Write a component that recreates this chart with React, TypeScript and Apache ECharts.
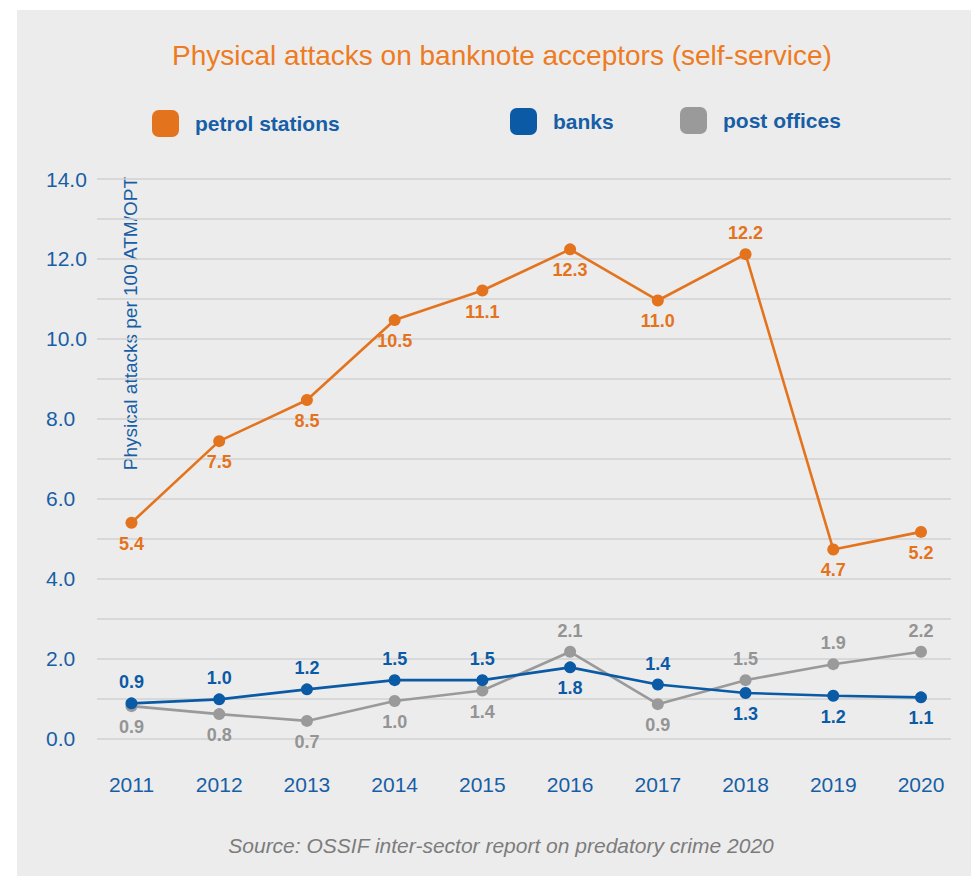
import React, { useEffect, useRef } from 'react';
import * as echarts from 'echarts';

const years = [2011, 2012, 2013, 2014, 2015, 2016, 2017, 2018, 2019, 2020];
const petrolValues = [5.4, 7.44, 8.47, 10.47, 11.21, 12.24, 10.96, 12.12, 4.73, 5.17];
const petrolLabels = ['5.4', '7.5', '8.5', '10.5', '11.1', '12.3', '11.0', '12.2', '4.7', '5.2'];
const bankValues = [0.88, 0.98, 1.23, 1.46, 1.46, 1.78, 1.35, 1.14, 1.07, 1.03];
const bankLabels = ['0.9', '1.0', '1.2', '1.5', '1.5', '1.8', '1.4', '1.3', '1.2', '1.1'];
const postValues = [0.81, 0.61, 0.44, 0.94, 1.2, 2.17, 0.86, 1.46, 1.86, 2.17];
const postLabels = ['0.9', '0.8', '0.7', '1.0', '1.4', '2.1', '0.9', '1.5', '1.9', '2.2'];
const seriesNames = ['petrol stations', 'banks', 'post offices'];

const titleText = 'Physical attacks on banknote acceptors (self-service)';
const yAxisName = 'Physical attacks per 100 ATM/OPT';
const sourceText = 'Source: OSSIF inter-sector report on predatory crime 2020';

const petrolPos = ['bottom', 'bottom', 'bottom', 'bottom', 'bottom', 'bottom', 'bottom', 'top', 'bottom', 'bottom'];
const bankPos = ['top', 'top', 'top', 'top', 'top', 'bottom', 'top', 'bottom', 'bottom', 'bottom'];
const postPos = ['bottom', 'bottom', 'bottom', 'bottom', 'bottom', 'top', 'bottom', 'top', 'top', 'top'];

const ORANGE = '#e4731d';
const BLUE = '#0b5aa6';
const BLUE_TEXT = '#175ea6';
const GREY = '#9a9a9a';
const FONT = "'Liberation Sans', Arial, Helvetica, sans-serif";

function buildSeries(name: string, values: number[], labels: string[], pos: string[], color: string, labelColor: string, z: number) {
  return {
    name,
    type: 'line',
    z,
    symbol: 'circle',
    symbolSize: 12,
    lineStyle: { color, width: 2.6 },
    itemStyle: { color },
    data: values.map((v, i) => ({
      value: [years[i], v],
      label: { position: pos[i] },
    })),
    label: {
      show: true,
      distance: 6,
      color: labelColor,
      fontSize: 18,
      fontWeight: 'bold',
      fontFamily: FONT,
      formatter: (p: any) => labels[p.dataIndex],
    },
  };
}

export default function App() {
  const ref = useRef<HTMLDivElement>(null);
  useEffect(() => {
    if (!ref.current) return;
    const chart = echarts.init(ref.current, null, { renderer: 'svg' });
    const legendBase = {
      orient: 'horizontal',
      itemWidth: 27,
      itemHeight: 27,
      icon: 'roundRect',
      padding: 0,
      selectedMode: false,
      textStyle: { color: BLUE_TEXT, fontSize: 21, fontWeight: 'bold', fontFamily: FONT, padding: [0, 0, 0, 11] },
    };
    chart.setOption({
      animation: false,
      textStyle: { fontFamily: FONT },
      graphic: [
        { type: 'rect', z: -10, silent: true, shape: { x: 17, y: 10, width: 954, height: 866 }, style: { fill: '#ececec' } },
        { type: 'text', x: 502, y: 55, style: { text: titleText, fill: '#ee7b22', fontSize: 28, fontFamily: FONT, align: 'center', verticalAlign: 'middle' } },
        { type: 'text', x: 130, y: 177, rotation: Math.PI / 2, style: { text: yAxisName, fill: BLUE_TEXT, fontSize: 19, fontFamily: FONT, align: 'right', verticalAlign: 'middle' } },
        { type: 'text', x: 501, y: 845, style: { text: sourceText, fill: '#7c7c7c', fontSize: 21, fontStyle: 'italic', fontFamily: FONT, align: 'center', verticalAlign: 'middle' } },
      ],
      legend: [
        { ...legendBase, data: [{ name: seriesNames[0], itemStyle: { color: ORANGE } }], left: 152, top: 110 },
        { ...legendBase, data: [{ name: seriesNames[1], itemStyle: { color: BLUE } }], left: 510, top: 108 },
        { ...legendBase, data: [{ name: seriesNames[2], itemStyle: { color: GREY } }], left: 680, top: 107 },
      ],
      grid: { left: 97, right: 20, top: 179, bottom: 138.5, containLabel: false },
      xAxis: {
        type: 'value',
        min: 2010.607,
        max: 2020.342,
        axisLine: { show: false },
        axisTick: { show: false },
        splitLine: { show: false },
        axisLabel: {
          customValues: years,
          margin: 35,
          fontSize: 21,
          color: BLUE_TEXT,
          fontFamily: FONT,
          formatter: (v: number) => String(v),
        },
      },
      yAxis: {
        type: 'value',
        min: 0,
        max: 14,
        interval: 1,
        axisLine: { show: false },
        axisTick: { show: false },
        splitLine: { show: true, lineStyle: { color: '#d2d2d2', width: 1.5 } },
        axisLabel: {
          margin: 51,
          align: 'left',
          fontSize: 21,
          color: BLUE_TEXT,
          fontFamily: FONT,
          formatter: (v: number) => (Math.round(v) % 2 === 0 ? v.toFixed(1) : ''),
        },
      },
      series: [
        buildSeries(seriesNames[2], postValues, postLabels, postPos, GREY, '#949494', 2),
        buildSeries(seriesNames[1], bankValues, bankLabels, bankPos, BLUE, BLUE, 3),
        buildSeries(seriesNames[0], petrolValues, petrolLabels, petrolPos, ORANGE, ORANGE, 4),
      ],
    });
    return () => chart.dispose();
  }, []);
  return <div ref={ref} style={{ position: 'fixed', left: 0, top: 0, width: 971, height: 877, background: '#ffffff' }} />;
}
